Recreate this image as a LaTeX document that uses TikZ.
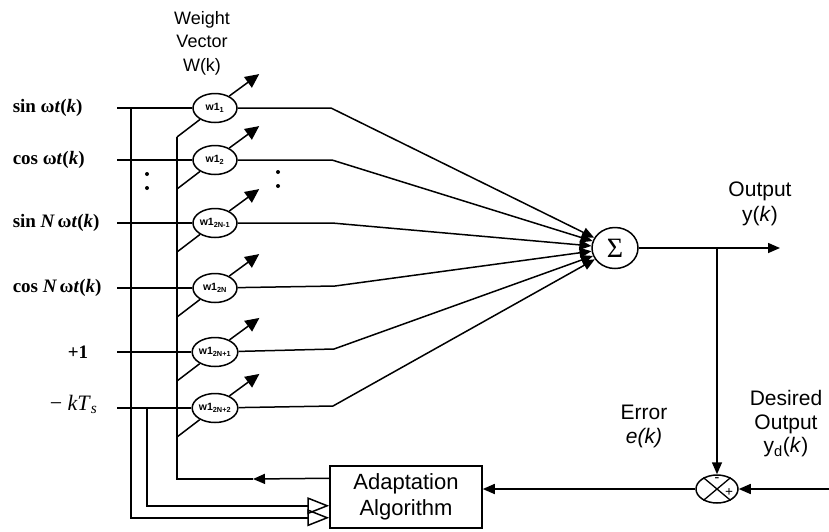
\documentclass[tikz,border=0pt]{standalone}
\usepackage{fontspec}
\setmainfont{Liberation Serif}
\setsansfont{Liberation Sans}
\usetikzlibrary{arrows.meta,shapes.geometric,calc}
\begin{document}
\begin{tikzpicture}[x=1pt,y=-1pt,line width=1.5pt,
  wt/.style={ellipse,draw,minimum width=44pt,minimum height=29pt,inner sep=0pt,
    font=\sffamily\bfseries\fontsize{10.5}{11}\selectfont},
  inlab/.style={anchor=west,inner sep=0pt,font=\bfseries\fontsize{19}{22}\selectfont},
  slab/.style={align=center,inner sep=0pt,font=\sffamily\fontsize{21}{24}\selectfont},
  tip/.style={-{Triangle[length=12pt,width=10pt]}},
  wtip/.style={-{Triangle[length=14pt,width=13pt]}},
  hollow/.style={-{Triangle[open,length=22pt,width=17pt]}},
]
\useasboundingbox (0,0) rectangle (829,531);

% input labels
\node[inlab] (l1) at (12,108) {sin ω\textit{t}(\textit{k})};
\node[inlab] (l2) at (12,160) {cos ω\textit{t}(\textit{k})};
\node[inlab] (l3) at (12,223) {sin \textit{N\,}ω\textit{t}(\textit{k})};
\node[inlab] (l4) at (12,288) {cos \textit{N\,}ω\textit{t}(\textit{k})};
\node[inlab] (l5) at (67,352) {+1};
\node[inlab,font=\fontsize{22}{24}\selectfont] (l6) at (49,404) {− \textit{kT}\textsubscript{\textit{s}}};

% input line starts
\coordinate (s1) at (117,108);
\coordinate (s2) at (117,160);
\coordinate (s3) at (117,223);
\coordinate (s4) at (117,288);
\coordinate (s5) at (117,352);
\coordinate (s6) at (117,408);

% weights
\node[wt] (w1) at (215,108) {w1\textsubscript{1}};
\node[wt] (w2) at (215,160) {w1\textsubscript{2}};
\node[wt] (w3) at (215,223) {w1\textsubscript{2N-1}};
\node[wt] (w4) at (215,288) {w1\textsubscript{2N}};
\node[wt] (w5) at (215,352) {w1\textsubscript{2N+1}};
\node[wt] (w6) at (215,408) {w1\textsubscript{2N+2}};

% summation and comparator
\node[ellipse,draw,minimum width=46pt,minimum height=41pt,inner sep=0pt,
  font=\fontsize{28}{28}\selectfont] (sum) at (615,248) {Σ};
\node[ellipse,draw,minimum width=42pt,minimum height=28pt,inner sep=0pt] (cmp) at (717,489) {};
\draw[line width=1.3pt] (cmp.40) -- (cmp.220) (cmp.140) -- (cmp.320);
\node[inner sep=0pt,font=\bfseries\fontsize{14}{14}\selectfont] (minus) at (717,480) {-};
\node[inner sep=0pt,font=\bfseries\fontsize{14}{14}\selectfont] (plus) at (729,493) {+};

% adaptation box
\node[draw,minimum width=152pt,minimum height=62pt,inner sep=0pt,slab,
  font=\sffamily\fontsize{22}{26}\selectfont] (ad) at (406,497) {Adaptation\\Algorithm};

% labels
\node[slab,font=\sffamily\fontsize{18}{23.5}\selectfont] (wv) at (202,43) {Weight\\Vector\\W(k)};
\node[slab,font=\sffamily\fontsize{21}{25}\selectfont] (ol) at (760,204) {Output\\y(\textit{k})};
\node[slab,font=\sffamily\fontsize{21}{23.5}\selectfont] (dl) at (786,424) {Desired\\Output\\y\textsubscript{d}(\textit{k})};
\node[slab,font=\sffamily\fontsize{21}{24}\selectfont] (el) at (644,426) {Error\\\textit{e(k)}};

% input lines into weights
\foreach \i in {1,...,6} {
  \draw (s\i) -- (w\i);
}

% left bus lines to adaptation box
\coordinate (h1) at ($(ad.south west)+(0,-11)$);
\coordinate (h2) at ($(ad.south west)+(0,-23)$);
\coordinate (b1) at (131,108);
\coordinate (b2) at (147,408);
\draw[hollow] (b1) -- (b1 |- h1) -- (h1);
\draw[hollow] (b2) -- (b2 |- h2) -- (h2);

% feedback bus from adaptation box to weights
\coordinate (fb) at ($(ad.north west)+(0,13)$);
\coordinate (fbt) at (253,479);
\coordinate (fbc) at (177,479);
\coordinate (fbtop) at (177,137);
\draw (fbt) -- (fbc) -- (fbtop);
\draw[tip] (fb) -- (fbt);
\draw (fbtop) -- (w1);
\draw (177,189) -- (w2);
\draw (177,252) -- (w3);
\draw (177,317) -- (w4);
\draw (177,381) -- (w5);
\draw (177,437) -- (w6);

% adjustable weight arrows
\foreach \i in {1,...,6} {
  \draw[wtip] (w\i.40) -- ++(30,-22);
}

% weights to summation
\draw[tip] (w1) -- (331,108) -- (sum);
\draw[tip] (w2) -- (332,160) -- (sum);
\draw[tip] (w3) -- (332,223) -- (sum);
\draw[tip] (w4) -- (335,286) -- (sum);
\draw[tip] (w5) -- (334,349) -- (sum);
\draw[tip] (w6) -- (333,406) -- (sum);

% dots
\fill (147,174) circle (2pt) (147,188) circle (2pt);
\fill (278,172) circle (2pt) (278,186) circle (2pt);

% output
\coordinate (out) at (780,248);
\draw[tip] (sum) -- (out);
\draw[tip] (cmp |- sum) -- (cmp);
\coordinate (yd) at (829,489);
\draw[tip] (yd) -- (cmp);
\draw[tip] (cmp) -- (ad.east |- cmp);
\end{tikzpicture}
\end{document}
